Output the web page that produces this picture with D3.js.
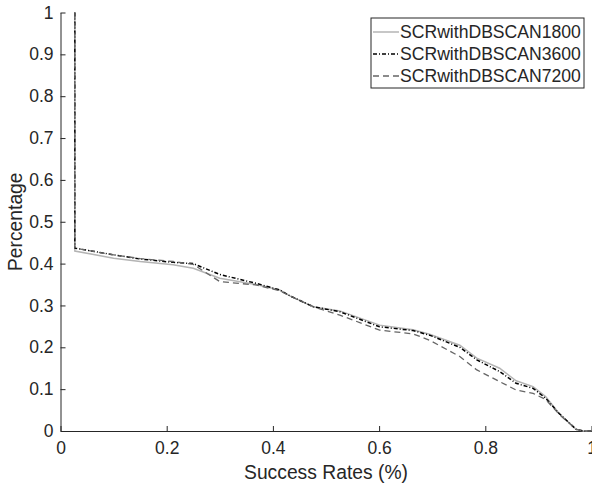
<!DOCTYPE html>
<html>
<head>
<meta charset="utf-8">
<script src="https://cdn.jsdelivr.net/npm/d3@7"></script>
<style>
  body { margin: 0; background: #fff; }
  text { font-family: "Liberation Sans", Arial, sans-serif; fill: #262626; }
</style>
</head>
<body>
<div id="chart"></div>
<script>
// success rate (x) shared by all series
const xs = [0.027, 0.027, 0.1, 0.15, 0.212, 0.25, 0.30, 0.368, 0.413, 0.432, 0.476, 0.526, 0.601, 0.664, 0.695, 0.752, 0.784, 0.827, 0.858, 0.890, 0.914, 0.939, 0.971, 0.985, 1.0];
const y1800 = [1, 0.430, 0.413, 0.405, 0.397, 0.389, 0.365, 0.350, 0.337, 0.323, 0.297, 0.287, 0.253, 0.242, 0.231, 0.205, 0.174, 0.150, 0.120, 0.106, 0.082, 0.042, 0.004, 0, 0];
const y3600 = [1, 0.437, 0.421, 0.411, 0.403, 0.400, 0.374, 0.353, 0.337, 0.323, 0.297, 0.285, 0.249, 0.240, 0.229, 0.200, 0.170, 0.142, 0.114, 0.102, 0.078, 0.042, 0.004, 0, 0];
const y7200 = [1, 0.437, 0.421, 0.412, 0.405, 0.398, 0.357, 0.349, 0.335, 0.323, 0.297, 0.277, 0.241, 0.232, 0.217, 0.178, 0.146, 0.118, 0.098, 0.090, 0.075, 0.040, 0.004, 0, 0];
const seriesNames = ['SCRwithDBSCAN1800', 'SCRwithDBSCAN3600', 'SCRwithDBSCAN7200'];
const xTicks = [0, 0.2, 0.4, 0.6, 0.8, 1];
const yTicks = [0, 0.1, 0.2, 0.3, 0.4, 0.5, 0.6, 0.7, 0.8, 0.9, 1];

const W = 592, H = 487;
const margin = { top: 12.5, right: 0.5, bottom: 56, left: 60.5 };

const styles = [
  { color: '#b4b4b4', dash: null, width: 1.5 },
  { color: '#000', dash: '4,2,1,2', width: 1.5 },
  { color: '#666', dash: '6,4', width: 1.3 }
];

const svg = d3.select('#chart').append('svg').attr('width', W).attr('height', H);

const x = d3.scaleLinear().domain([0, 1]).range([margin.left, W - margin.right]);
const y = d3.scaleLinear().domain([0, 1]).range([H - margin.bottom, margin.top]);

const fmt = d => d === 0 || d === 1 ? d3.format('d')(d) : d3.format('.1f')(d);

// axes (MATLAB style: inward ticks, box off)
const xAxis = svg.append('g')
  .attr('transform', `translate(0,${y(0)})`)
  .call(d3.axisBottom(x).tickValues(xTicks).tickSizeInner(-5).tickSizeOuter(0).tickPadding(11).tickFormat(fmt));
const yAxis = svg.append('g')
  .attr('transform', `translate(${x(0)},0)`)
  .call(d3.axisLeft(y).tickValues(yTicks).tickSizeInner(-5).tickSizeOuter(0).tickPadding(7).tickFormat(fmt));

[xAxis, yAxis].forEach(a => {
  a.selectAll('path, line').attr('stroke', '#262626').attr('stroke-width', 1);
  a.selectAll('text').attr('font-size', 17.5).attr('font-family', '"Liberation Sans", Arial, sans-serif').attr('fill', '#262626');
});

svg.append('text')
  .attr('x', (x(0) + x(1)) / 2).attr('y', 479)
  .attr('text-anchor', 'middle').attr('font-size', 19.3)
  .text('Success Rates (%)');
svg.append('text')
  .attr('transform', `translate(22,${(y(0) + y(1)) / 2}) rotate(-90)`)
  .attr('text-anchor', 'middle').attr('font-size', 19.3)
  .text('Percentage');

const line = d3.line().x(d => x(d[0])).y(d => y(d[1]));
const allY = [y1800, y3600, y7200];

allY.forEach((ys, i) => {
  const pts = xs.map((v, j) => [v, ys[j]]);
  svg.append('path')
    .datum(pts)
    .attr('fill', 'none')
    .attr('stroke', styles[i].color)
    .attr('stroke-width', styles[i].width)
    .attr('stroke-dasharray', styles[i].dash)
    .attr('d', line);
});

// legend
const lg = svg.append('g').attr('transform', 'translate(371,18)');
lg.append('rect').attr('width', 213).attr('height', 70)
  .attr('fill', '#fff').attr('stroke', '#262626').attr('stroke-width', 1);
seriesNames.forEach((name, i) => {
  const cy = 14 + i * 22;
  lg.append('line').attr('x1', 2).attr('x2', 28).attr('y1', cy).attr('y2', cy)
    .attr('stroke', styles[i].color).attr('stroke-width', styles[i].width)
    .attr('stroke-dasharray', styles[i].dash);
  lg.append('text').attr('x', 29).attr('y', cy).attr('dy', '0.35em')
    .attr('font-size', 17.6).attr('fill', '#000').text(name);
});
</script>
</body>
</html>
